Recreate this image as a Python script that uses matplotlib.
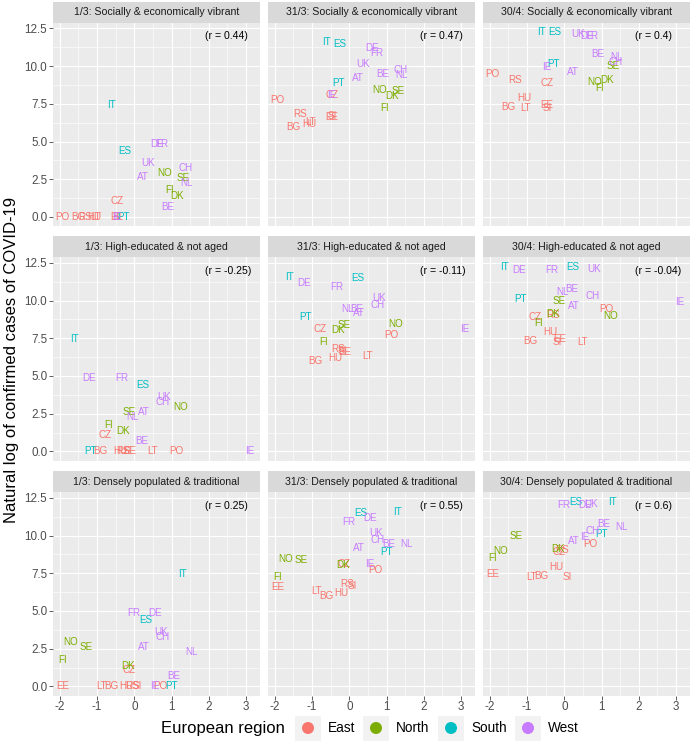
import matplotlib
matplotlib.use("Agg")
import matplotlib.pyplot as plt
from matplotlib.patches import Rectangle
import numpy as np

plt.rcParams['font.family'] = ['Liberation Sans', 'DejaVu Sans']

countries = ["PO", "BG", "RS", "HU", "LT", "CZ", "EE", "SI",
             "NO", "SE", "DK", "FI",
             "IT", "ES", "PT",
             "DE", "FR", "UK", "AT", "CH", "NL", "BE", "IE"]
regions = ["East"] * 8 + ["North"] * 4 + ["South"] * 3 + ["West"] * 8

# factor scores (x)
f_vibrant = [-1.93, -1.51, -1.31, -1.07, -1.03, -0.46, -0.48, -0.45,
             0.80, 1.32, 1.15, 0.96,
             -0.62, -0.25, -0.28,
             0.62, 0.75, 0.36, 0.23, 1.38, 1.41, 0.89, -0.47]
f_educated = [1.12, -0.91, -0.29, -0.38, 0.49, -0.78, -0.11, -0.18,
              1.23, -0.15, -0.29, -0.68,
              -1.60, 0.24, -1.18,
              -1.22, -0.33, 0.81, 0.25, 0.76, -0.04, 0.21, 3.11]
f_dense = [0.70, -0.62, -0.06, -0.22, -0.89, -0.14, -1.92, 0.09,
           -1.71, -1.29, -0.16, -1.93,
           1.30, 0.30, 0.99,
           0.57, -0.02, 0.72, 0.27, 0.76, 1.52, 1.07, 0.56]

# natural log of confirmed cases (y)
y_0103 = [0, 0, 0, 0, 0, 1.08, 0, 0,
          2.92, 2.61, 1.37, 1.77,
          7.43, 4.40, 0,
          4.85, 4.85, 3.60, 2.62, 3.27, 2.25, 0.67, 0]
y_3103 = [7.74, 5.98, 6.80, 6.18, 6.30, 8.10, 6.60, 6.68,
          8.42, 8.38, 8.02, 7.24,
          11.58, 11.47, 8.90,
          11.18, 10.87, 10.15, 9.20, 9.72, 9.42, 9.46, 8.10]
y_3004 = [9.45, 7.32, 9.05, 7.90, 7.22, 8.90, 7.43, 7.25,
          8.95, 9.98, 9.10, 8.52,
          12.25, 12.25, 10.13,
          12.00, 12.00, 12.10, 9.64, 10.30, 10.58, 10.80, 9.93]

factor_names = ["Socially & economically vibrant", "High-educated & not aged",
                "Densely populated & traditional"]
date_names = ["1/3", "31/3", "30/4"]
r_labels = [["(r = 0.44)", "(r = 0.47)", "(r = 0.4)"],
            ["(r = -0.25)", "(r = -0.11)", "(r = -0.04)"],
            ["(r = 0.25)", "(r = 0.55)", "(r = 0.6)"]]

region_names = ["East", "North", "South", "West"]
region_colors = {"East": "#F8766D", "North": "#7CAE00", "South": "#00BFC4", "West": "#C77CFF"}

factors = [f_vibrant, f_educated, f_dense]
dates = [y_0103, y_3103, y_3004]

W, H = 690, 743
fig = plt.figure(figsize=(W / 100, H / 100), dpi=100)


def px_axes(l, t, w, h, **kw):
    return fig.add_axes([l / W, 1 - (t + h) / H, w / W, h / H], **kw)


col_left = [53, 268, 483]
pw = 206.6
row_top = [23, 257.4, 492.4]
ph = 203.2
strip_h = 21.5

xall = np.concatenate([np.array(f) for f in factors])
yall = np.concatenate([np.array(d) for d in dates])
xr = xall.max() - xall.min()
yr = yall.max() - yall.min()
xlim = (xall.min() - 0.05 * xr, xall.max() + 0.05 * xr)
ylim = (yall.min() - 0.05 * yr, yall.max() + 0.05 * yr)

for i, fx in enumerate(factors):
    for j, dy in enumerate(dates):
        ax = px_axes(col_left[j], row_top[i], pw, ph)
        ax.set_facecolor("#EBEBEB")
        ax.set_xlim(*xlim)
        ax.set_ylim(*ylim)
        ax.set_xticks([-2, -1, 0, 1, 2, 3])
        ax.set_xticks(np.arange(-1.5, 3.5, 1.0), minor=True)
        ax.set_yticks([0, 2.5, 5, 7.5, 10, 12.5])
        ax.set_yticks(np.arange(1.25, 12.6, 2.5), minor=True)
        ax.grid(which="major", color="white", linewidth=0.85)
        ax.grid(which="minor", color="white", linewidth=0.42)
        ax.set_axisbelow(True)
        for s in ax.spines.values():
            s.set_visible(False)
        ax.tick_params(which="minor", length=0)
        ax.tick_params(which="major", length=2.7, width=0.55, color="#333333",
                       labelsize=8.4, labelcolor="#4D4D4D", pad=1.5)
        if j == 0:
            ax.set_yticklabels(["0.0", "2.5", "5.0", "7.5", "10.0", "12.5"])
        else:
            ax.tick_params(axis="y", length=0, labelleft=False)
        if i == 2:
            ax.set_xticklabels(["-2", "-1", "0", "1", "2", "3"])
        else:
            ax.tick_params(axis="x", length=0, labelbottom=False)
        for c, reg, xv, yv in zip(countries, regions, fx, dy):
            ax.text(xv, yv, c, color=region_colors[reg], fontsize=7.1,
                    ha="center", va="center")
        ax.text(1.9, 11.97, r_labels[i][j], fontsize=7.6, color="black",
                ha="left", va="center")
        # strip
        sax = px_axes(col_left[j], row_top[i] - strip_h, pw, strip_h)
        sax.set_facecolor("#D9D9D9")
        sax.set_xticks([])
        sax.set_yticks([])
        for s in sax.spines.values():
            s.set_visible(False)
        sax.text(0.5, 0.5, f"{date_names[j]}: {factor_names[i]}", fontsize=7.6,
                 color="#1A1A1A", ha="center", va="center", transform=sax.transAxes)

fig.text(12 / W, 1 - 360 / H, "Natural log of confirmed cases of COVID-19",
         rotation=90, fontsize=12, ha="center", va="center", color="black")

# legend
lax = fig.add_axes([0, 0, 1, 1])
lax.set_xlim(0, W)
lax.set_ylim(H, 0)
lax.axis("off")
ly = 728
lax.text(285, ly, "European region", fontsize=12, ha="right", va="center")
box_x = [295, 363, 438, 515]
for bx, reg in zip(box_x, region_names):
    lax.add_patch(Rectangle((bx, ly - 12.5), 26, 25, facecolor="#F2F2F2", edgecolor="none"))
    lax.scatter([bx + 13], [ly], s=75, color=region_colors[reg], edgecolors="none")
    lax.text(bx + 33, ly, reg, fontsize=9.8, ha="left", va="center")

fig.savefig("out.png", dpi=100)
